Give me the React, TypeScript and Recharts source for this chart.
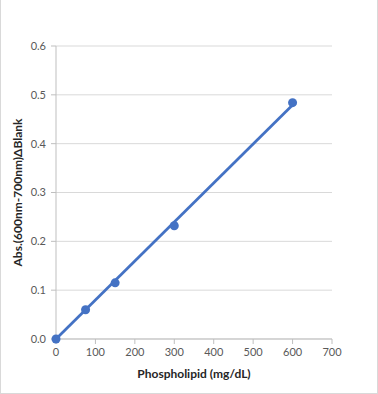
import React from "react";
import { ScatterChart, Scatter, XAxis, YAxis, CartesianGrid } from "recharts";

const concentrations = [0, 75, 150, 300, 600];
const absorbances = [0.0, 0.06, 0.115, 0.232, 0.484];
const trendX = [0, 600];
const trendY = [0.0, 0.479];
const xTicks = [0, 100, 200, 300, 400, 500, 600, 700];
const yTicks = [0, 0.1, 0.2, 0.3, 0.4, 0.5, 0.6];

const points = concentrations.map((x, i) => ({ x, y: absorbances[i] }));
const trend = trendX.map((x, i) => ({ x, y: trendY[i] }));

const BLUE = "#4472c4";
const FONT = "Lato, 'Liberation Sans', sans-serif";

const YLabel = (props: any) => {
  const vb = props.viewBox || {};
  const cx = 16;
  const cy = vb.y + vb.height / 2;
  return (
    <text
      x={cx}
      y={cy}
      transform={`rotate(-90, ${cx}, ${cy})`}
      textAnchor="middle"
      dominantBaseline="central"
      fontFamily={FONT}
      fontSize={12}
      fontWeight="bold"
      fill="#262626"
    >
      Abs.(600nm-700nm)ΔBlank
    </text>
  );
};

const XLabel = (props: any) => {
  const vb = props.viewBox || {};
  const cx = vb.x + vb.width / 2;
  return (
    <text
      x={cx}
      y={373}
      textAnchor="middle"
      dominantBaseline="central"
      fontFamily={FONT}
      fontSize={12}
      fontWeight="bold"
      fill="#262626"
    >
      Phospholipid (mg/dL)
    </text>
  );
};

export default function App() {
  return (
    <div
      style={{
        position: "fixed",
        left: 0,
        top: 0,
        width: 378,
        height: 394,
        background: "#fff",
        boxSizing: "border-box",
        borderLeft: "1px solid #d9d9d9",
        borderRight: "1px solid #d9d9d9",
        borderBottom: "1px solid #d9d9d9",
      }}
    >
      <ScatterChart
        width={376}
        height={393}
        margin={{ top: 46, right: 45, bottom: 0, left: 0 }}
        style={{ fontFamily: FONT }}
      >
        <CartesianGrid vertical={false} stroke="#d9d9d9" strokeWidth={1} />
        <XAxis
          type="number"
          dataKey="x"
          domain={[0, 700]}
          ticks={xTicks}
          interval={0}
          height={54}
          tickSize={5}
          tickMargin={4}
          stroke="#bfbfbf"
          tick={{ fill: "#595959", fontSize: 11, fontFamily: FONT }}
          axisLine={{ stroke: "#bfbfbf" }}
          tickLine={{ stroke: "#bfbfbf" }}
          label={<XLabel />}
        />
        <YAxis
          type="number"
          dataKey="y"
          domain={[0, 0.6]}
          ticks={yTicks}
          interval={0}
          width={55}
          tickSize={5}
          tickMargin={5}
          tickFormatter={(v: number) => v.toFixed(1)}
          stroke="#bfbfbf"
          tick={{ fill: "#595959", fontSize: 11, fontFamily: FONT }}
          axisLine={{ stroke: "#bfbfbf" }}
          tickLine={{ stroke: "#bfbfbf" }}
          label={<YLabel />}
        />
        <Scatter
          data={trend}
          line={{ stroke: BLUE, strokeWidth: 2.75 }}
          shape={() => <g />}
          isAnimationActive={false}
        />
        <Scatter
          data={points}
          fill={BLUE}
          shape={(p: any) => <circle cx={p.cx} cy={p.cy} r={4.5} fill={BLUE} />}
          isAnimationActive={false}
        />
      </ScatterChart>
    </div>
  );
}
